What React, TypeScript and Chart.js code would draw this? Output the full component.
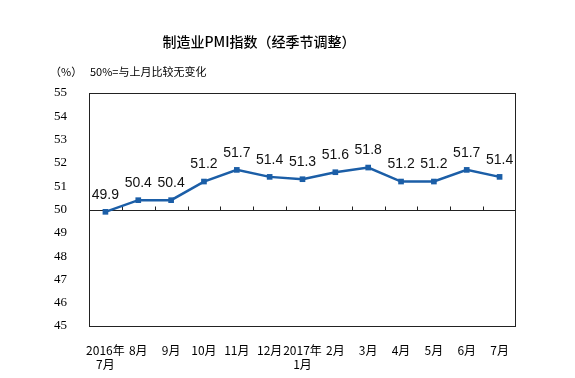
import React, { useEffect, useRef } from "react";
import { Chart, registerables } from "chart.js";

Chart.register(...registerables);

const categories: (string | string[])[] = [
  ["2016年", "7月"], "8月", "9月", "10月", "11月", "12月", ["2017年", "1月"],
  "2月", "3月", "4月", "5月", "6月", "7月",
];
const pmiValues = [49.9, 50.4, 50.4, 51.2, 51.7, 51.4, 51.3, 51.6, 51.8, 51.2, 51.2, 51.7, 51.4];
const yTicks = [45, 46, 47, 48, 49, 50, 51, 52, 53, 54, 55];
const titleText = "制造业PMI指数（经季节调整）";
const unitText = "（%）";
const noteText = "50%=与上月比较无变化";
const baseline = 50;

const LINE_COLOR = "#1b5ea7";

const decorPlugin = {
  id: "decor",
  beforeDatasetsDraw(chart: any) {
    const { ctx, chartArea, scales } = chart;
    const { left, right, top, bottom } = chartArea;
    ctx.save();
    ctx.strokeStyle = "#222";
    ctx.lineWidth = 1;
    ctx.strokeRect(left + 0.5, top + 0.5, right - left - 1, bottom - top);
    const y50 = Math.round(scales.y.getPixelForValue(baseline)) + 0.5;
    ctx.beginPath();
    ctx.moveTo(left, y50);
    ctx.lineTo(right, y50);
    const xs = scales.x;
    for (let i = 1; i < categories.length; i++) {
      const xb = Math.round((xs.getPixelForValue(i - 1) + xs.getPixelForValue(i)) / 2) + 0.5;
      ctx.moveTo(xb, y50);
      ctx.lineTo(xb, y50 - 4);
    }
    ctx.stroke();
    ctx.restore();
  },
  afterDraw(chart: any) {
    const { ctx } = chart;
    ctx.save();
    ctx.fillStyle = "#000";
    ctx.textBaseline = "middle";
    ctx.textAlign = "center";
    ctx.font = "500 14px 'Noto Sans CJK SC'";
    ctx.fillText(titleText, 259, 42);
    ctx.textAlign = "left";
    ctx.font = "11px 'Noto Sans CJK SC'";
    ctx.fillText(unitText, 50, 72);
    ctx.fillText(noteText, 90, 72);
    // data labels
    const meta = chart.getDatasetMeta(0);
    ctx.textAlign = "center";
    ctx.fillStyle = "#111";
    ctx.font = "14px 'Liberation Sans'";
    meta.data.forEach((pt: any, i: number) => {
      ctx.fillText(pmiValues[i].toFixed(1), pt.x, pt.y - 17);
    });
    ctx.restore();
  },
};

export default function App() {
  const ref = useRef<HTMLCanvasElement>(null);
  useEffect(() => {
    if (!ref.current) return;
    const chart = new Chart(ref.current, {
      type: "line",
      data: {
        labels: categories,
        datasets: [
          {
            data: pmiValues,
            borderColor: LINE_COLOR,
            backgroundColor: LINE_COLOR,
            borderWidth: 2.5,
            pointStyle: "rect",
            pointRadius: 4,
            pointBorderWidth: 0,
            tension: 0,
          },
        ],
      },
      options: {
        responsive: false,
        animation: false,
        layout: { padding: { top: 93, right: 59, left: 0, bottom: 0 } },
        plugins: { legend: { display: false }, tooltip: { enabled: false }, title: { display: false } },
        scales: {
          x: {
            type: "category",
            offset: true,
            grid: { display: false },
            border: { display: false },
            ticks: {
              color: "#000",
              font: { family: "'Noto Sans CJK SC'", size: 12, lineHeight: 1.2 },
              padding: 9,
              maxRotation: 0,
              autoSkip: false,
            },
            afterFit: (s: any) => { s.height = 52; },
          },
          y: {
            min: yTicks[0],
            max: yTicks[yTicks.length - 1],
            grid: { display: false },
            border: { display: false },
            afterBuildTicks: (s: any) => { s.ticks = yTicks.map((v) => ({ value: v })); },
            ticks: {
              color: "#000",
              font: { family: "'Liberation Serif'", size: 13 },
              padding: 14,
            },
            afterFit: (s: any) => { s.width = 89; },
          },
        },
      },
      plugins: [decorPlugin],
    });
    return () => chart.destroy();
  }, []);
  return (
    <div style={{ position: "fixed", left: 0, top: 0, width: 575, height: 378, background: "#fff" }}>
      <canvas ref={ref} width={575} height={378} />
    </div>
  );
}
